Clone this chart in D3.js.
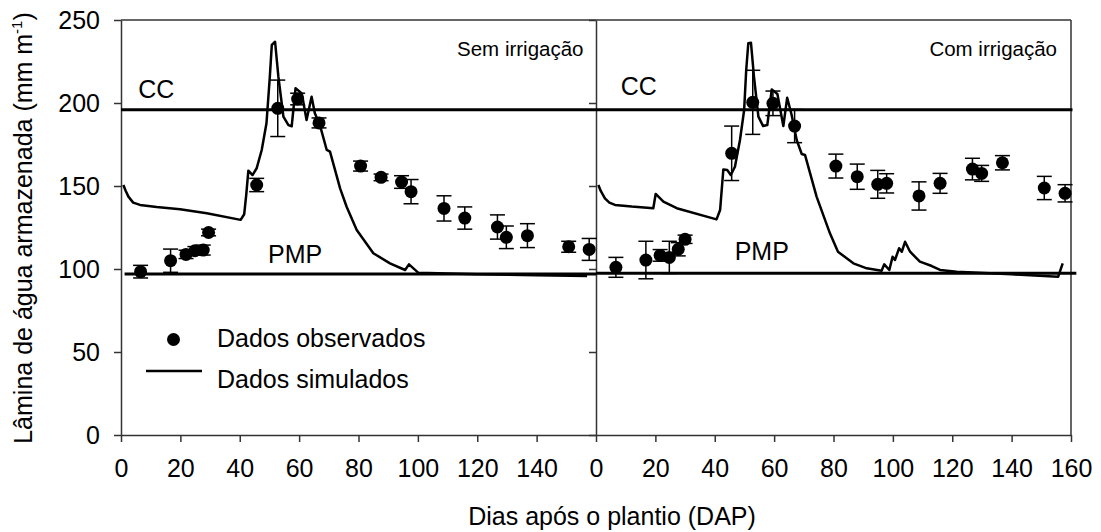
<!DOCTYPE html>
<html><head><meta charset="utf-8">
<script src="https://cdn.jsdelivr.net/npm/d3@7"></script>
<style>
html,body{margin:0;padding:0;background:#fff;}
svg{display:block;font-family:"Liberation Sans",Arial,sans-serif;}
</style></head>
<body><svg id="c" width="1101" height="532"></svg>
<script>
// ---------- data ----------
const xTicksLeft = [0,20,40,60,80,100,120,140];
const xTicksRight = [0,20,40,60,80,100,120,140,160];
const yTicks = [0,50,100,150,200,250];
const panelTitles = ["Sem irrigação","Com irrigação"];
const ccValue = 196;
const pmpValue = 97;

// observed, sem irrigação
const obsDaysSem = [6.6,16.7,21.9,24.9,27.7,29.5,45.7,52.8,59.5,66.7,80.7,87.6,94.5,97.7,108.8,115.8,126.8,129.8,136.9,150.8,157.7];
const obsSem     = [98.4,105,108.8,111,111.4,122,150.6,196.8,202.4,188,162,155.2,152.4,146.6,136.5,130.7,125.3,119.1,120.1,113.4,111.8];
const errSem     = [3.8,7,2.5,2.5,3,2,4,17,3.5,3,3,2,3.8,7.3,7.6,6.7,7.3,6.8,7.2,3.3,6.6];

// observed, com irrigação
const obsDaysCom = [6.7,16.8,21.6,24.7,27.7,30,45.7,52.8,59.6,66.9,80.8,88,94.9,97.9,108.8,115.9,126.8,129.9,136.9,151,158];
const obsCom     = [101,105.4,108.2,107,111.9,117.9,169.7,200.4,199.8,186.1,162,155.6,151,151.6,144,151.6,160.2,157.6,164,148.8,145.6];
const errCom     = [6,11.3,3.5,9.7,4,2.5,16.4,19.3,7.4,10,7.2,7.6,8.4,5.8,8.5,6,6.5,4.8,4.3,7,5.2];

// simulated, sem irrigação
const simDaysSem = [0.8,1.6,2.5,4.1,6.4,12,19.9,28.9,40.3,41.5,42.2,42.9,44.3,45.7,47.4,49,50.1,50.8,51.9,53,54.7,56.4,57.5,58.8,60.9,62.5,64.2,65.3,67,69.3,70.4,73.8,76,79.4,85,90.6,95.7,97,100.1,120,140,157];
const simSem     = [150.6,147,143.6,140,138.6,137.3,136,133.6,129.6,133,145,159.2,156.6,160.7,171.7,187.8,215,235,236.9,216,191.8,186.7,186,208.9,205.8,189.8,203.8,193.8,186.7,171.7,170.7,148.6,137.5,123.5,109.5,103.4,99.4,102.8,97.8,96.8,96.2,95.8];

// simulated, com irrigação
const simDaysCom = [0.8,1.6,3,4.5,6.4,12,19.3,20.1,22.7,27.2,40.6,41.8,42.9,44.2,45.4,46.8,48.5,49.9,50.6,51.3,52.2,53.2,54.7,56.3,57.7,59.2,61.1,63.1,64.4,65.9,67.6,69.3,70.4,74.3,78.8,81.5,86.7,91.2,96.2,97.1,98.8,99.9,100.7,102.1,103,104.1,105.8,109.1,113.1,115.9,121.5,140,155.7,157.2];
const simCom     = [150.6,147,142.6,140,138.6,137.6,136.6,145.2,140.6,136.6,129.9,135.5,160,159.6,156.6,161.6,177.7,195.8,220,236,236.3,216,191.8,186.1,186.7,208.2,205.4,186.1,203.2,192.8,177.7,169.3,168.7,143.6,121.5,110.4,103.4,100.4,99,102.8,99.4,107.4,105.4,112.5,110.4,116.4,110.4,104.4,101.8,99.4,98.4,96.8,95.4,103.4];

const legendLabels = ["Dados observados","Dados simulados"];

// ---------- drawing ----------
const svg = d3.select("#c");
const FONT = 25;
const axisCol = "#333";
const xL = d3.scaleLinear().domain([0,160]).range([121,596]);
const xR = d3.scaleLinear().domain([0,160]).range([596,1071]);
const y = d3.scaleLinear().domain([0,250]).range([435,20]);

function styleAxis(g){
  g.select(".domain").attr("stroke",axisCol).attr("stroke-width",1.5);
  g.selectAll(".tick line").attr("stroke",axisCol).attr("stroke-width",1.5);
  g.selectAll(".tick text").attr("fill","#000").attr("font-size",FONT).attr("font-family",null);
}

// frame top and right
svg.append("line").attr("x1",xL(0)).attr("x2",xR(160)).attr("y1",y(250)).attr("y2",y(250)).attr("stroke",axisCol).attr("stroke-width",1.5);
svg.append("line").attr("x1",xR(160)).attr("x2",xR(160)).attr("y1",y(250)).attr("y2",y(0)).attr("stroke",axisCol).attr("stroke-width",1.5);

// axes
svg.append("g").attr("transform",`translate(0,${y(0)})`)
  .call(d3.axisBottom(xL).tickValues(xTicksLeft).tickSize(7).tickPadding(17).tickSizeOuter(0))
  .call(styleAxis);
svg.append("g").attr("transform",`translate(0,${y(0)})`)
  .call(d3.axisBottom(xR).tickValues(xTicksRight).tickSize(7).tickPadding(17).tickSizeOuter(0))
  .call(styleAxis);
svg.append("g").attr("transform",`translate(${xL(0)},0)`)
  .call(d3.axisLeft(y).tickValues(yTicks).tickSize(7).tickPadding(14).tickSizeOuter(0))
  .call(styleAxis);
svg.append("g").attr("transform",`translate(${xR(0)},0)`)
  .call(d3.axisLeft(y).tickValues(yTicks).tickSize(7).tickFormat("").tickSizeOuter(0))
  .call(styleAxis);

// CC and PMP reference lines
svg.append("line").attr("x1",xL(0)).attr("x2",xR(160.5)).attr("y1",y(ccValue)).attr("y2",y(ccValue)).attr("stroke","#000").attr("stroke-width",3);
svg.append("line").attr("x1",xL(1.2)).attr("x2",xL(160)).attr("y1",y(pmpValue)).attr("y2",y(pmpValue)).attr("stroke","#000").attr("stroke-width",3);
svg.append("line").attr("x1",xR(0)).attr("x2",xR(161.8)).attr("y1",y(pmpValue+0.5)).attr("y2",y(pmpValue+0.5)).attr("stroke","#000").attr("stroke-width",3);

// labels CC / PMP
const refLbl = [
  {t:"CC", x:xL(5.8), yy:98},
  {t:"PMP",x:xL(49.5),yy:263},
  {t:"CC", x:xR(8.3), yy:95},
  {t:"PMP",x:xR(46.7),yy:260}
];
svg.selectAll(".ref").data(refLbl).enter().append("text")
  .attr("x",d=>d.x).attr("y",d=>d.yy).attr("font-size",FONT).text(d=>d.t);

// panel titles
svg.append("text").attr("x",xL(160)-12.5).attr("y",56).attr("text-anchor","end").attr("font-size",20.5).text(panelTitles[0]);
svg.append("text").attr("x",xR(160)-14).attr("y",56).attr("text-anchor","end").attr("font-size",20.5).text(panelTitles[1]);

// simulated lines
const lineL = d3.line().x(d=>xL(d[0])).y(d=>y(d[1]));
const lineR = d3.line().x(d=>xR(d[0])).y(d=>y(d[1]));
svg.append("path").attr("d",lineL(d3.zip(simDaysSem,simSem))).attr("fill","none").attr("stroke","#000").attr("stroke-width",2.5).attr("stroke-linejoin","round");
svg.append("path").attr("d",lineR(d3.zip(simDaysCom,simCom))).attr("fill","none").attr("stroke","#000").attr("stroke-width",2.5).attr("stroke-linejoin","round");

// observed points with error bars
function drawObs(xs, days, vals, errs){
  const data = days.map((d,i)=>({d, v:vals[i], e:errs[i]}));
  const g = svg.append("g");
  const eb = g.selectAll(".eb").data(data).enter().append("g");
  eb.append("line").attr("x1",p=>xs(p.d)).attr("x2",p=>xs(p.d)).attr("y1",p=>y(p.v-p.e)).attr("y2",p=>y(p.v+p.e)).attr("stroke","#000").attr("stroke-width",1.5);
  eb.append("line").attr("x1",p=>xs(p.d)-7.5).attr("x2",p=>xs(p.d)+7.5).attr("y1",p=>y(p.v+p.e)).attr("y2",p=>y(p.v+p.e)).attr("stroke","#000").attr("stroke-width",1.5);
  eb.append("line").attr("x1",p=>xs(p.d)-7.5).attr("x2",p=>xs(p.d)+7.5).attr("y1",p=>y(p.v-p.e)).attr("y2",p=>y(p.v-p.e)).attr("stroke","#000").attr("stroke-width",1.5);
  g.selectAll("circle").data(data).enter().append("circle")
    .attr("cx",p=>xs(p.d)).attr("cy",p=>y(p.v)).attr("r",6.5).attr("fill","#000");
}
drawObs(xL, obsDaysSem, obsSem, errSem);
drawObs(xR, obsDaysCom, obsCom, errCom);

// legend
svg.append("circle").attr("cx",173.5).attr("cy",339.5).attr("r",6.5).attr("fill","#000");
svg.append("text").attr("x",217).attr("y",347).attr("font-size",FONT).text(legendLabels[0]);
svg.append("line").attr("x1",146).attr("x2",202).attr("y1",371).attr("y2",371).attr("stroke","#000").attr("stroke-width",2.5);
svg.append("text").attr("x",217).attr("y",388).attr("font-size",FONT).text(legendLabels[1]);

// axis titles
svg.append("text").attr("x",612).attr("y",525).attr("text-anchor","middle").attr("font-size",FONT).text("Dias após o plantio (DAP)");
const yt = svg.append("text").attr("transform","translate(32,228) rotate(-90)").attr("text-anchor","middle").attr("font-size",FONT);
yt.append("tspan").text("Lâmina de água armazenada (mm m");
yt.append("tspan").attr("font-size",15).attr("dy",-10).text("-1");
yt.append("tspan").attr("dy",10).text(")");
</script>
</body></html>
